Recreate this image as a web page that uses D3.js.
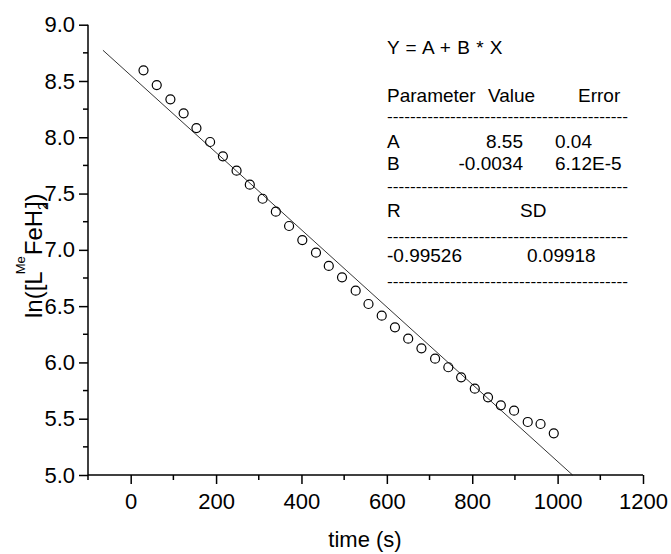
<!DOCTYPE html>
<html>
<head>
<meta charset="utf-8">
<script src="https://cdn.jsdelivr.net/npm/d3@7"></script>
<style>
  body { margin: 0; background: #fff; }
  svg { display: block; font-family: "Liberation Sans", Arial, sans-serif; }
</style>
</head>
<body>
<svg id="chart"></svg>
<script>
// data
var timeVals = [30, 61, 93, 124, 154, 186, 216, 248, 279, 309, 340, 371, 402, 434, 464, 495,
                527, 557, 588, 619, 650, 681, 713, 744, 774, 806, 837, 867, 898, 930, 960, 991];
var lnVals = [8.595, 8.464, 8.337, 8.213, 8.082, 7.958, 7.831, 7.703, 7.579, 7.454, 7.339, 7.212,
              7.087, 6.975, 6.857, 6.756, 6.637, 6.519, 6.415, 6.312, 6.211, 6.125, 6.033, 5.957,
              5.868, 5.767, 5.690, 5.619, 5.571, 5.471, 5.453, 5.370];

var fitA = 8.55;
var fitB = -0.00343;
var fitStartX = -65;

var xTicks = [0, 200, 400, 600, 800, 1000, 1200];
var xMinor = [-100, 100, 300, 500, 700, 900, 1100];
var yTicks = [5.0, 5.5, 6.0, 6.5, 7.0, 7.5, 8.0, 8.5, 9.0];
var yMinor = [5.25, 5.75, 6.25, 6.75, 7.25, 7.75, 8.25, 8.75];

var fitTitle = "Y = A + B * X";
var paramHead = ["Parameter", "Value", "Error"];
var paramNames = ["A", "B"];
var paramValues = ["8.55", "-0.0034"];
var paramErrors = ["0.04", "6.12E-5"];
var statHead = ["R", "SD"];
var statValues = ["-0.99526", "0.09918"];

var width = 671, height = 554;
var svg = d3.select("#chart").attr("width", width).attr("height", height);

var x = d3.scaleLinear().domain([-100, 1200]).range([88, 643]);
var y = d3.scaleLinear().domain([5, 9]).range([475, 24.7]);

// axes
var xAxis = svg.append("g").attr("transform", "translate(0," + y(5) + ")")
    .call(d3.axisBottom(x).tickValues(xTicks).tickFormat(d3.format("d")).tickSize(9).tickPadding(9));
xAxis.append("g").selectAll("line").data(xMinor).enter().append("line")
    .attr("x1", function(d) { return x(d); }).attr("x2", function(d) { return x(d); })
    .attr("y1", 0).attr("y2", 5).attr("stroke", "#000").attr("stroke-width", 1.5);

var yAxis = svg.append("g").attr("transform", "translate(" + x(-100) + ",0)")
    .call(d3.axisLeft(y).tickValues(yTicks).tickFormat(d3.format(".1f")).tickSize(9).tickPadding(4));
yAxis.append("g").selectAll("line").data(yMinor).enter().append("line")
    .attr("y1", function(d) { return y(d); }).attr("y2", function(d) { return y(d); })
    .attr("x1", 0).attr("x2", -5).attr("stroke", "#000").attr("stroke-width", 1.5);

xAxis.select(".domain").remove();
yAxis.select(".domain").remove();
svg.append("line").attr("x1", x(-100)).attr("x2", x(1200)).attr("y1", y(5)).attr("y2", y(5))
    .attr("stroke", "#000").attr("stroke-width", 1.5);
svg.append("line").attr("x1", x(-100)).attr("x2", x(-100)).attr("y1", y(5)).attr("y2", y(9))
    .attr("stroke", "#000").attr("stroke-width", 1.5);

svg.selectAll(".tick line").attr("stroke-width", 1.5);
svg.selectAll(".tick text").attr("font-size", 22).attr("font-family", "'Liberation Sans', Arial, sans-serif").attr("fill", "#000");

// fit line
var fitEndX = (5 - fitA) / fitB;
svg.append("line")
    .attr("x1", x(fitStartX)).attr("y1", y(fitA + fitB * fitStartX))
    .attr("x2", x(fitEndX)).attr("y2", y(fitA + fitB * fitEndX))
    .attr("stroke", "#000").attr("stroke-width", 0.8);

// points
svg.append("g").selectAll("circle").data(timeVals).enter().append("circle")
    .attr("cx", function(d) { return x(d); })
    .attr("cy", function(d, i) { return y(lnVals[i]); })
    .attr("r", 4.5)
    .attr("fill", "none").attr("stroke", "#000").attr("stroke-width", 1.2);

// axis titles
svg.append("text").attr("x", 365).attr("y", 547).attr("text-anchor", "middle")
    .attr("font-size", 22).text("time (s)");

var yl = svg.append("text").attr("transform", "translate(42,318) rotate(-90)")
    .attr("font-size", 24);
yl.append("tspan").text("ln([L");
yl.append("tspan").attr("font-size", 13).attr("dx", -3).attr("dy", -17).text("Me");
yl.append("tspan").attr("dx", 1).attr("dy", 17).text("FeH");
yl.append("tspan").attr("font-size", 14).attr("dy", 6).text("2");
yl.append("tspan").attr("dx", -6).attr("dy", -6).text("])");

// fit results box
var box = svg.append("g").attr("font-size", 19);
var dashes = "-".repeat(42);
function dashLine(yy) {
  box.append("text").attr("x", 387).attr("y", yy).attr("textLength", 241)
     .attr("lengthAdjust", "spacingAndGlyphs").attr("font-size", 15).text(dashes);
}
box.append("text").attr("x", 387).attr("y", 54).attr("word-spacing", 1).text(fitTitle);
box.append("text").attr("x", 387).attr("y", 102).text(paramHead[0]);
box.append("text").attr("x", 488).attr("y", 102).text(paramHead[1]);
box.append("text").attr("x", 578).attr("y", 102).text(paramHead[2]);
dashLine(122);
paramNames.forEach(function(n, i) {
  var yy = 148 + i * 22;
  box.append("text").attr("x", 387).attr("y", yy).text(n);
  box.append("text").attr("x", 523).attr("y", yy).attr("text-anchor", "end").text(paramValues[i]);
  box.append("text").attr("x", 555).attr("y", yy).text(paramErrors[i]);
});
dashLine(192);
box.append("text").attr("x", 387).attr("y", 217).text(statHead[0]);
box.append("text").attr("x", 520).attr("y", 217).text(statHead[1]);
dashLine(242);
box.append("text").attr("x", 387).attr("y", 262).text(statValues[0]);
box.append("text").attr("x", 527).attr("y", 262).text(statValues[1]);
dashLine(287);
</script>
</body>
</html>
